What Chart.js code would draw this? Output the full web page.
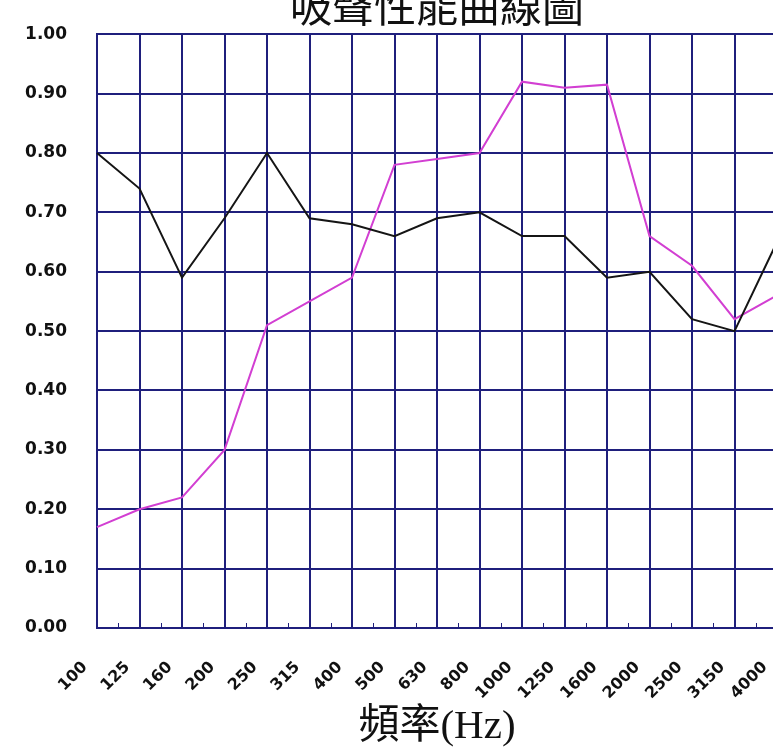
<!DOCTYPE html>
<html>
<head>
<meta charset="utf-8">
<script src="https://cdn.jsdelivr.net/npm/chart.js@4/dist/chart.umd.min.js"></script>
<style>
  html, body { margin: 0; padding: 0; background: #fff; }
  #wrap { position: relative; width: 773px; height: 752px; overflow: hidden; }
  #chart { position: absolute; left: 0; top: -17px; }
</style>
</head>
<body>
<div id="wrap">
  <canvas id="chart" width="874" height="769"></canvas>
</div>
<script>
// frequency bands (Hz)
const freqLabels = ['100', '125', '160', '200', '250', '315', '400', '500', '630', '800',
  '1000', '1250', '1600', '2000', '2500', '3150', '4000'];
// absorption coefficients
const blackSeries = [0.80, 0.74, 0.59, 0.69, 0.80, 0.69, 0.68, 0.66, 0.69, 0.70,
  0.66, 0.66, 0.59, 0.60, 0.52, 0.50, 0.65];
const magentaSeries = [0.17, 0.20, 0.22, 0.30, 0.51, 0.55, 0.59, 0.78, 0.79, 0.80,
  0.92, 0.91, 0.915, 0.66, 0.61, 0.52, 0.56];
const yTicks = [0, 0.1, 0.2, 0.3, 0.4, 0.5, 0.6, 0.7, 0.8, 0.9, 1.0];

const gridColor = '#1f1f7c';

// small ticks between categories on the bottom axis
const minorTicks = {
  id: 'minorTicks',
  afterDatasetsDraw(chart) {
    const x = chart.scales.x;
    const ctx = chart.ctx;
    ctx.save();
    ctx.strokeStyle = gridColor;
    ctx.lineWidth = 1;
    for (let i = 0; i < freqLabels.length - 1; i++) {
      const px = Math.round(x.getPixelForValue(i + 0.5)) + 0.5;
      ctx.beginPath();
      ctx.moveTo(px, x.top);
      ctx.lineTo(px, x.top - 5);
      ctx.stroke();
    }
    ctx.restore();
  }
};

new Chart(document.getElementById('chart'), {
  type: 'line',
  data: {
    labels: freqLabels,
    datasets: [
      {
        label: 'A',
        data: blackSeries,
        borderColor: '#151515',
        borderWidth: 2,
        pointRadius: 0,
        tension: 0
      },
      {
        label: 'B',
        data: magentaSeries,
        borderColor: '#d23fd2',
        borderWidth: 2,
        pointRadius: 0,
        tension: 0
      }
    ]
  },
  options: {
    responsive: false,
    animation: false,
    devicePixelRatio: 1,
    layout: { padding: { left: 0, right: 97, top: 0, bottom: 0 } },
    plugins: {
      legend: { display: false },
      tooltip: { enabled: false },
      title: {
        display: true,
        fullSize: false,
        text: '吸聲性能曲線圖',
        color: '#111',
        font: { family: '"Noto Sans CJK TC", sans-serif', size: 42, weight: 'normal', lineHeight: 1.1 },
        padding: { top: 0, bottom: 5 }
      }
    },
    scales: {
      x: {
        offset: false,
        grid: { color: gridColor, lineWidth: 2, drawTicks: false },
        border: { color: gridColor, width: 2 },
        ticks: {
          autoSkip: false,
          minRotation: 45,
          maxRotation: 45,
          padding: 30,
          labelOffset: -12,
          color: '#111',
          font: { family: '"DejaVu Sans", sans-serif', size: 16, weight: 'bold' }
        },
        title: {
          display: true,
          text: '頻率(Hz)',
          color: '#111',
          font: { family: '"Liberation Serif", "Noto Sans CJK TC", serif', size: 41, lineHeight: 1.2 },
          padding: { top: 0, bottom: 0 }
        },
        afterFit(scale) { scale.height = 124; }
      },
      y: {
        min: 0,
        max: 1,
        afterBuildTicks(scale) { scale.ticks = yTicks.map(v => ({ value: v })); },
        grid: { color: gridColor, lineWidth: 2, drawTicks: false },
        border: { color: gridColor, width: 2 },
        ticks: {
          padding: 30,
          color: '#111',
          font: { family: '"DejaVu Sans", sans-serif', size: 17, weight: 'bold' },
          callback: v => v.toFixed(2)
        },
        afterFit(scale) { scale.width = 97; }
      }
    }
  },
  plugins: [minorTicks]
});
</script>
</body>
</html>
